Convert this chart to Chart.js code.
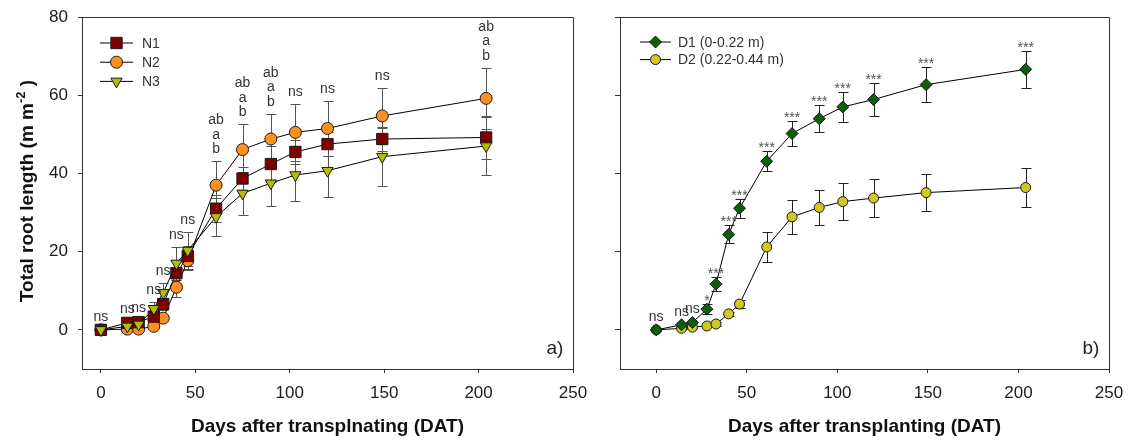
<!DOCTYPE html>
<html lang="en">
<head>
<meta charset="UTF-8">
<title>Total root length</title>
<script src="https://cdn.jsdelivr.net/npm/chart.js"></script>
<style>
  body { margin: 0; background: #fff; }
  #wrap { position: relative; width: 1129px; height: 441px; }
  #chartA { position: absolute; left: 0; top: 0; }
  #chartB { position: absolute; left: 590px; top: 0; }
</style>
</head>
<body>
<div id="wrap">
  <canvas id="chartA" width="590" height="441"></canvas>
  <canvas id="chartB" width="539" height="441"></canvas>
</div>
<script>
// sampling days (DAT), same for both panels
const days = [0, 14, 20, 28, 33, 40, 46, 61, 75, 90, 103, 120, 149, 204];

// panel a) nitrogen treatments
const n1 = [0, 1.8, 2.0, 3.4, 6.6, 14.5, 18.9, 31.0, 38.7, 42.4, 45.5, 47.5, 48.8, 49.2];
const n1Err = [0.3, 0.5, 0.6, 1.2, 1.5, 3.0, 2.5, 3.5, 3.0, 4.5, 3.0, 3.0, 3.1, 5.4];
const n2 = [0, 0.2, 0.2, 0.9, 3.0, 10.9, 17.7, 37.0, 46.1, 48.8, 50.5, 51.5, 54.7, 59.2];
const n2Err = [0.2, 0.3, 0.3, 0.5, 0.8, 2.4, 2.5, 6.1, 6.5, 6.4, 7.2, 7.0, 7.2, 7.8];
const n3 = [0, 0.9, 1.4, 5.4, 9.5, 17.0, 20.3, 28.9, 34.9, 37.5, 39.6, 40.7, 44.3, 47.0];
const n3Err = [0.3, 0.4, 0.5, 1.8, 2.6, 4.2, 4.8, 4.8, 5.5, 5.7, 6.6, 6.6, 7.4, 7.4];
const sigA = ['ns', 'ns', 'ns', 'ns', 'ns', 'ns', 'ns', 'ab\na\nb', 'ab\na\nb', 'ab\na\nb', 'ns', 'ns', 'ns', 'ab\na\nb'];

// panel b) soil depths
const d1 = [0, 1.3, 1.9, 5.3, 11.7, 24.4, 31.1, 43.1, 50.2, 54.0, 57.0, 58.9, 62.7, 66.6];
const d1Err = [0.2, 0.3, 0.3, 1.3, 1.7, 2.3, 2.4, 2.6, 3.1, 3.5, 3.8, 4.1, 4.4, 4.7];
const d2 = [0, 0.4, 0.7, 1.0, 1.5, 4.1, 6.6, 21.2, 28.9, 31.3, 32.8, 33.7, 35.1, 36.4];
const d2Err = [0.2, 0.2, 0.2, 0.3, 0.4, 0.6, 1.1, 3.8, 4.4, 4.5, 4.8, 4.9, 4.8, 4.9];
const sigB = ['ns', 'ns', 'ns', '*', '***', '***', '***', '***', '***', '***', '***', '***', '***', '***'];

const xTicks = [0, 50, 100, 150, 200, 250];
const yTicks = [0, 20, 40, 60, 80];

const FONT = '"Liberation Sans", Arial, Helvetica, sans-serif';

function pts(ys) {
    return days.map((d, i) => ({ x: d, y: ys[i] }));
}

function series(label, ys, err, style, color, radius, rotation, order) {
    return {
        label: label,
        data: pts(ys),
        err: err,
        showLine: true,
        borderColor: '#000',
        borderWidth: 1,
        pointStyle: style,
        pointRadius: radius,
        pointRotation: rotation,
        pointBackgroundColor: color,
        pointBorderColor: '#1a1a1a',
        pointBorderWidth: 1,
        order: order
    };
}

function marker(ctx, ds, x, y) {
    ctx.fillStyle = ds.pointBackgroundColor;
    ctx.strokeStyle = ds.pointBorderColor;
    ctx.lineWidth = 1;
    Chart.helpers.drawPoint(ctx, {
        pointStyle: ds.pointStyle,
        radius: ds.pointRadius,
        rotation: ds.pointRotation,
        borderWidth: 1
    }, x, y);
}

// vertical error bars with caps, under the markers
const errorBars = {
    id: 'errorBars',
    beforeDatasetsDraw(chart, args, opts) {
        const { ctx, scales: { x, y } } = chart;
        ctx.save();
        ctx.strokeStyle = opts.color;
        ctx.lineWidth = 1;
        chart.data.datasets.forEach(ds => {
            ds.data.forEach((p, i) => {
                const e = ds.err[i];
                const px = Math.round(x.getPixelForValue(p.x)) + 0.5;
                const top = Math.round(y.getPixelForValue(p.y + e)) + 0.5;
                const bot = Math.round(y.getPixelForValue(p.y - e)) + 0.5;
                ctx.beginPath();
                ctx.moveTo(px, top); ctx.lineTo(px, bot);
                ctx.moveTo(px - opts.cap, top); ctx.lineTo(px + opts.cap, top);
                ctx.moveTo(px - opts.cap, bot); ctx.lineTo(px + opts.cap, bot);
                ctx.stroke();
            });
        });
        ctx.restore();
    }
};

// significance letters above the highest error bar
const sigLabels = {
    id: 'sigLabels',
    afterDatasetsDraw(chart, args, opts) {
        const { ctx, scales: { x, y } } = chart;
        const sets = chart.data.datasets;
        ctx.save();
        ctx.textAlign = 'center';
        ctx.textBaseline = 'alphabetic';
        opts.labels.forEach((txt, i) => {
            let top = -Infinity;
            sets.forEach(ds => { top = Math.max(top, ds.data[i].y + ds.err[i]); });
            const px = x.getPixelForValue(days[i]);
            const star = txt[0] === '*';
            const base = y.getPixelForValue(top) + (star ? 1 : -8);
            ctx.font = '14px ' + FONT;
            ctx.fillStyle = star ? '#555' : '#333';
            txt.split('\n').reverse().forEach((line, k) => {
                ctx.fillText(line, px, base - k * 14.5);
            });
        });
        ctx.restore();
    }
};

// box frame, legend, panel letter and y title
const decor = {
    id: 'decor',
    afterDraw(chart, args, opts) {
        const { ctx, chartArea: a } = chart;
        ctx.save();
        ctx.strokeStyle = '#333';
        ctx.lineWidth = 1;
        ctx.beginPath();
        ctx.moveTo(a.left, a.top + 0.5);
        ctx.lineTo(a.right + 0.5, a.top + 0.5);
        ctx.lineTo(a.right + 0.5, a.bottom);
        ctx.stroke();

        // legend
        ctx.font = '14px ' + FONT;
        ctx.textBaseline = 'middle';
        ctx.textAlign = 'left';
        chart.data.datasets.forEach((ds, k) => {
            const ly = a.top + opts.legTop + k * opts.legGap;
            ctx.strokeStyle = '#000';
            ctx.lineWidth = 1;
            ctx.beginPath();
            ctx.moveTo(a.left + opts.legX0, ly);
            ctx.lineTo(a.left + opts.legX1, ly);
            ctx.stroke();
            marker(ctx, ds, a.left + (opts.legX0 + opts.legX1) / 2, ly);
            ctx.fillStyle = '#333';
            ctx.fillText(ds.label, a.left + opts.legText, ly + 1);
        });

        // panel letter
        ctx.font = '19px ' + FONT;
        ctx.fillStyle = '#222';
        ctx.textAlign = 'center';
        ctx.fillText(opts.letter, a.right - opts.letterDx, a.bottom - 20);

        // y title with superscript
        if (opts.yTitle) {
            ctx.translate(33, (a.top + a.bottom) / 2 - 2);
            ctx.rotate(-Math.PI / 2);
            ctx.textBaseline = 'alphabetic';
            ctx.textAlign = 'left';
            ctx.fillStyle = '#111';
            const big = 'bold 19px ' + FONT, small = 'bold 13px ' + FONT;
            const parts = [['Total root length (m m', big, 0], ['-2', small, -8], [' )', big, 0]];
            let w = 0;
            parts.forEach(p => { ctx.font = p[1]; w += ctx.measureText(p[0]).width; });
            let cx = -w / 2;
            parts.forEach(p => {
                ctx.font = p[1];
                ctx.fillText(p[0], cx, p[2]);
                cx += ctx.measureText(p[0]).width;
            });
        }
        ctx.restore();
    }
};

function makeChart(id, datasets, cfg) {
    return new Chart(document.getElementById(id), {
        type: 'scatter',
        data: { datasets: datasets },
        plugins: [errorBars, sigLabels, decor],
        options: {
            responsive: false,
            animation: false,
            devicePixelRatio: 1,
            layout: { padding: { top: 17, right: cfg.padRight, bottom: 0, left: 0 } },
            scales: {
                x: {
                    type: 'linear',
                    min: cfg.xMin,
                    max: 250,
                    afterBuildTicks: s => { s.ticks = xTicks.map(v => ({ value: v })); },
                    afterFit: s => { s.height = 72; s.paddingLeft = 0; s.paddingRight = 0; },
                    border: { display: true, color: '#333', width: 1 },
                    grid: { display: true, drawOnChartArea: false, drawTicks: true, tickLength: 4, color: '#333' },
                    ticks: { color: '#1a1a1a', font: { family: FONT, size: 17 }, padding: 10 },
                    title: {
                        display: true,
                        text: cfg.xTitle,
                        color: '#111',
                        font: { family: FONT, size: 19, weight: 'bold' },
                        padding: { top: 0, bottom: 3 }
                    }
                },
                y: {
                    type: 'linear',
                    min: -10,
                    max: 80,
                    afterBuildTicks: s => { s.ticks = yTicks.map(v => ({ value: v })); },
                    afterFit: s => { s.width = cfg.yWidth; s.paddingTop = 0; s.paddingBottom = 0; },
                    border: { display: true, color: '#333', width: 1 },
                    grid: { display: true, drawOnChartArea: false, drawTicks: true, tickLength: cfg.yTick, color: '#333' },
                    ticks: { display: cfg.yLabels, color: '#1a1a1a', font: { family: FONT, size: 17 }, padding: 10 }
                }
            },
            plugins: {
                legend: { display: false },
                tooltip: { enabled: false },
                errorBars: { color: cfg.barColor, cap: 5 },
                sigLabels: { labels: cfg.sig },
                decor: cfg.decor
            }
        }
    });
}

makeChart('chartA', [
    series('N1', n1, n1Err, 'rect', '#7f0000', 8, 0, 1),
    series('N2', n2, n2Err, 'circle', '#ff8f1f', 6, 0, 2),
    series('N3', n3, n3Err, 'triangle', '#b4bc08', 6.5, 180, 0)
], {
    padRight: 17, xMin: -10, yWidth: 82, yTick: 4, yLabels: true,
    xTitle: 'Days after transplnating (DAT)', barColor: '#555', sig: sigA,
    decor: { legTop: 26, legGap: 19.2, legX0: 18, legX1: 51, legText: 60, letter: 'a)', letterDx: 18, yTitle: true }
});

makeChart('chartB', [
    series('D1 (0-0.22 m)', d1, d1Err, 'rectRot', '#0a5f0a', 6, 0, 0),
    series('D2 (0.22-0.44 m)', d2, d2Err, 'circle', '#cfc923', 5, 0, 1)
], {
    padRight: 20, xMin: -20, yWidth: 30, yTick: 5, yLabels: false,
    xTitle: 'Days after transplanting (DAT)', barColor: '#222', sig: sigB,
    decor: { legTop: 25, legGap: 17.6, legX0: 20, legX1: 51, legText: 58, letter: 'b)', letterDx: 18, yTitle: false }
});
</script>
</body>
</html>
